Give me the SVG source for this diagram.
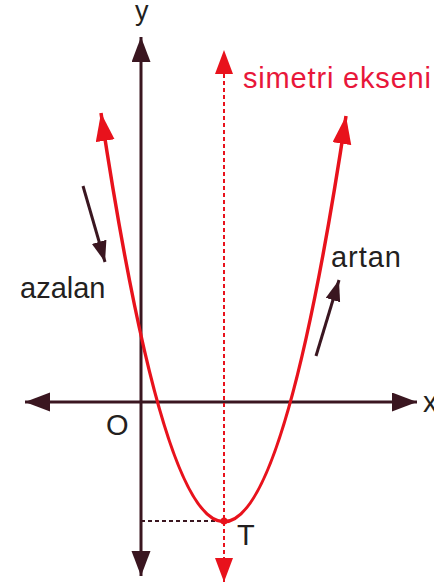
<svg xmlns="http://www.w3.org/2000/svg" width="434" height="585" viewBox="0 0 434 585">
<style>
.ax{stroke:#3a1620;stroke-width:3;fill:none}
.red{stroke:#e8121c;stroke-width:3.5;fill:none}
.t{font-family:"Liberation Sans",Arial,sans-serif;font-size:29px;fill:#231f20}
</style>
<defs>
<marker id="ahd" markerUnits="userSpaceOnUse" markerWidth="26" markerHeight="20" refX="25" refY="9.5" orient="auto-start-reverse"><path d="M0,0L25,9.5L0,19z" fill="#3a1620"/></marker>
<marker id="ahr" markerUnits="userSpaceOnUse" markerWidth="26" markerHeight="20" refX="24" refY="9" orient="auto-start-reverse"><path d="M0,0L24,9L0,18z" fill="#e8121c"/></marker>
<marker id="ahc" markerUnits="userSpaceOnUse" markerWidth="29" markerHeight="20" refX="28" refY="9.5" orient="auto-start-reverse"><path d="M0,0L28,9.5L0,19z" fill="#e8121c"/></marker>
<marker id="ahs" markerUnits="userSpaceOnUse" markerWidth="22" markerHeight="16" refX="21" refY="7.5" orient="auto"><path d="M0,0L21,7.5L0,15z" fill="#3a1620"/></marker>
</defs>
<g id="connectors">
<line id="x-axis" class="ax" x1="25" y1="402" x2="417" y2="402" marker-start="url(#ahd)" marker-end="url(#ahd)"/>
<line id="y-axis" class="ax" x1="141" y1="576" x2="141" y2="37" marker-start="url(#ahd)" marker-end="url(#ahd)"/>
<line id="sym-axis" x1="224" y1="582" x2="224" y2="50" stroke="#e8121c" stroke-width="2" stroke-dasharray="4 3" marker-start="url(#ahr)" marker-end="url(#ahr)"/>
<line id="t-dash" x1="141" y1="521" x2="224" y2="521" stroke="#3a1620" stroke-width="2" stroke-dasharray="4 3"/>
<path id="parabola" class="red" d="M101,113Q224,929 346,116" marker-start="url(#ahc)" marker-end="url(#ahc)"/>
<line id="dec-arrow" class="ax" x1="83" y1="186" x2="105" y2="262" marker-end="url(#ahs)"/>
<line id="inc-arrow" class="ax" x1="316" y1="356" x2="339" y2="280" marker-end="url(#ahs)"/>
</g>
<g id="vertex"><circle cx="224" cy="521" r="3.5" fill="#e8121c"/></g>
<g id="labels">
<text class="t" x="135" y="20" style="font-size:27px">y</text>
<text class="t" x="423" y="412">x</text>
<text class="t" x="106" y="435">O</text>
<text class="t" x="237" y="545">T</text>
<text class="t" x="20" y="298">azalan</text>
<text class="t" x="331" y="267" textLength="70" lengthAdjust="spacing">artan</text>
<text class="t" x="243" y="88" textLength="188" lengthAdjust="spacing" style="fill:#e8173a">simetri ekseni</text>
</g>
</svg>
